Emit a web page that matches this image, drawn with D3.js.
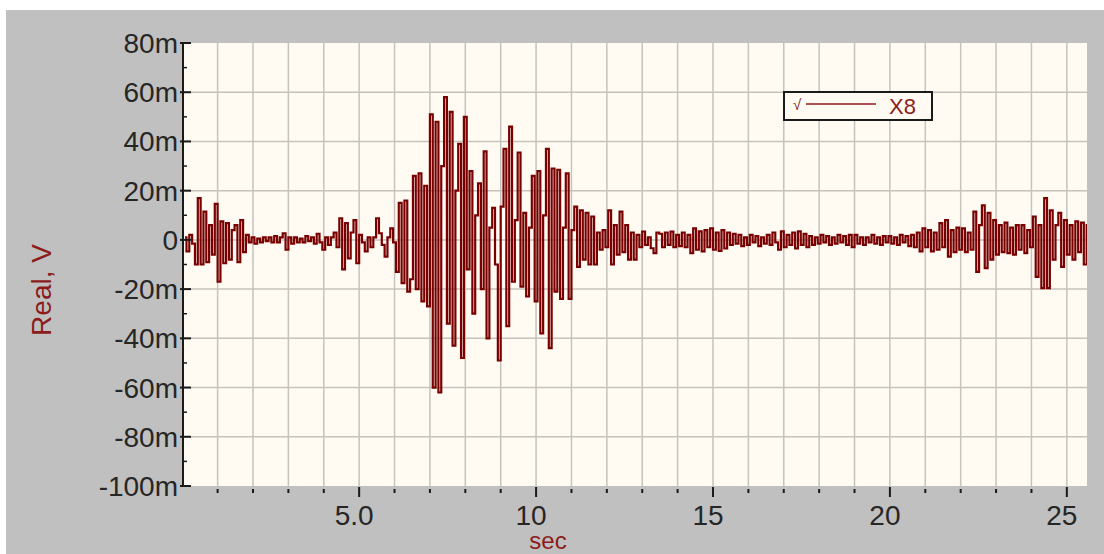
<!DOCTYPE html>
<html>
<head>
	<script src="https://d3js.org/d3.v7.min.js"></script>
	<style>
		body {
			margin: 0;
			background-color: white;
		}
		svg text {
			font-family: "Liberation Sans", Arial, sans-serif;
		}
		.tick-label {
			fill: #262626;
			font-size: 28px;
		}
		.axis-title {
			fill: #8c1c1c;
			font-size: 28px;
		}
		.grid line {
			stroke: #c6c2bc;
			stroke-width: 1.5px;
		}
	</style>
</head>
<body>
<svg class="chart" width="1104" height="554"></svg>

<script>
// tick positions and labels
var xTicks = [5, 10, 15, 20, 25];
var xTickLabels = ["5.0", "10", "15", "20", "25"];
var xMinorTicks = [1, 2, 3, 4, 6, 7, 8, 9, 11, 12, 13, 14, 16, 17, 18, 19, 21, 22, 23, 24];
var yTicks = [80, 60, 40, 20, 0, -20, -40, -60, -80, -100];
var yTickLabels = ["80m", "60m", "40m", "20m", "0", "-20m", "-40m", "-60m", "-80m", "-100m"];
var yMinorTicks = [70, 50, 30, 10, -10, -30, -50, -70, -90];

// X8 trace, sampled every 0.08 sec starting at 0.08 sec, values in mV
var sampleStart = 0.08;
var sampleStep = 0.08;
var x8 = [
	1, -4.7, 2, -1.5, -10, 17, -10, 11.5, -9, 6,          // 0.08 - 0.80
	-6, 14.6, -17, 7.5, -9.5, 6.8, -8, 4, 6, -9,          // 0.88 - 1.60
	8, -5, 2, -1, 1, -1.5, 0.5, -1, 1, -0.5,              // 1.68 - 2.40
	1, -1, 1.5, -1, 1, 2.7, -4, 1, -1.5, 1,               // 2.48 - 3.20
	-1, 0.5, -1, 1.5, -0.5, 1, -1.5, 2.5, -1, -4,         // 3.28 - 4.00
	1, -2, 1, 3, -3, 8.8, -12, 6.8, -7.5, 3,              // 4.08 - 4.80
	8, -9.5, 2, -1, -4.7, 1, -3, 1, 8.8, 2.7,             // 4.88 - 5.60
	-2, -6.8, 1, 4.7, -1, -13, 15, -17.6, 16, -21,        // 5.68 - 6.40
	-16, 26, -20, 27, -25, 22, -27, 51, -60, 48,          // 6.48 - 7.20
	-62, 30, 58, -34, 52, -43, 20, 39, -48, 50,           // 7.28 - 8.00
	-12, 28, -30, 10, 23, -20, 36, -40, 5, 13,            // 8.08 - 8.80
	-10, -49, 13.5, 37, -35, 46, -17, 8, 35.5, -19,       // 8.88 - 9.60
	11, -23, 5, 26, -25, 28, -38, 10, 37, -44,            // 9.68 - 10.40
	29, -21, 28.5, -24, 5, 27, -24, 4, 13.5, -11,         // 10.48 - 11.20
	12, -8, 11, -10, 9.5, -10, 3, -4, 4, -3,              // 11.28 - 12.00
	12, -10, 6, -6, 11.5, -5, 6, -8, 3, -8,               // 12.08 - 12.80
	2, -3, 3.4, -2, 1, -3.4, -5.4, 3, 2.5, -3,            // 12.88 - 13.60
	3, -2, 3.4, -3, 2, -2.5, 3, -3, 2, -5.4,              // 13.68 - 14.40
	4.7, -4, 3.5, -4.7, 4, -3, 4.7, -4, 3, -4.5,          // 14.48 - 15.20
	4, -3.5, 3, -2, 2.5, -1.5, 2, -2.5, 1, -2,            // 15.28 - 16.00
	2, -1, 1.5, -2.5, 1, -1.5, 2, -2, 3, -1,              // 16.08 - 16.80
	-4, 3.5, -3, 2, -2, 3, -3.5, 3.5, -2, 2.5,            // 16.88 - 17.60
	-3, 1.5, -2, 1, -1.5, 2, -1, 1.5, -2, 1,              // 17.68 - 18.40
	-1.5, 2, -1, 1.5, -2, 2, -3, 2, -1.5, 1,              // 18.48 - 19.20
	-2, 1, -1, 2, -1.5, 1, -2, 1.5, -1, 1.5,              // 19.28 - 20.00
	-1.5, 1, -2, 2, -1, 1.5, -2.5, 2, -3, 3,              // 20.08 - 20.80
	-4.7, 4.7, -3, 4, -4.7, 3, -4, 6.8, -3, 8,            // 20.88 - 21.60
	-6.8, 4, -5, 5, -4, 4.7, -5, 3, -4, 11.5,             // 21.68 - 22.40
	-13, 6, 14, -11.5, 11, -8, 8, -6, 6, -5,              // 22.48 - 23.20
	7, -5.4, 5, -6, 6, -4, 6, -5.4, 4, -3,                // 23.28 - 24.00
	9.5, -15, 6, -19.6, 17, -19.6, 12, -8, 6, 11,         // 24.08 - 24.80
	-11, 8, -6, 6, -8, 7.5, -5, 7, -10, 6                 // 24.88 - 25.60
];

var seriesName = "X8";

var svg = d3.select(".chart");

var plotLeft = 184, plotRight = 1087, plotTop = 43, plotBottom = 486;

var x = d3.scaleLinear()
	.domain([0.05, 25.57])
	.range([plotLeft, plotRight]);

var y = d3.scaleLinear()
	.domain([-100, 80])
	.range([plotBottom, plotTop]);

// gray panel
svg.append("rect")
	.attr("x", 6)
	.attr("y", 10)
	.attr("width", 1098)
	.attr("height", 544)
	.attr("fill", "#c0c0c0");

// plot area
svg.append("rect")
	.attr("x", plotLeft)
	.attr("y", plotTop)
	.attr("width", plotRight - plotLeft)
	.attr("height", plotBottom - plotTop)
	.attr("fill", "#fffbf2");

svg.append("clipPath")
	.attr("id", "plot-clip")
	.append("rect")
	.attr("x", plotLeft)
	.attr("y", plotTop)
	.attr("width", plotRight - plotLeft)
	.attr("height", plotBottom - plotTop);

// grid
var grid = svg.append("g").attr("class", "grid");

grid.selectAll(".vgrid")
	.data(xMinorTicks.concat(xTicks))
	.enter().append("line")
	.attr("x1", function(d) { return x(d); })
	.attr("x2", function(d) { return x(d); })
	.attr("y1", plotTop)
	.attr("y2", plotBottom);

grid.selectAll(".hgrid")
	.data(yTicks.filter(function(d) { return d > -100 && d < 80; }))
	.enter().append("line")
	.attr("x1", plotLeft)
	.attr("x2", plotRight)
	.attr("y1", function(d) { return y(d); })
	.attr("y2", function(d) { return y(d); });

// trace
var points = x8.map(function(v, i) {
	return { t: sampleStart + i * sampleStep, v: v };
});

var line = d3.line()
	.x(function(d) { return x(d.t); })
	.y(function(d) { return y(d.v); })
	.curve(d3.curveStep);

svg.append("path")
	.datum(points)
	.attr("clip-path", "url(#plot-clip)")
	.attr("fill", "none")
	.attr("stroke", "#780000")
	.attr("stroke-width", 2.2)
	.attr("d", line);

// y axis
svg.append("line")
	.attr("x1", plotLeft - 1)
	.attr("x2", plotLeft - 1)
	.attr("y1", plotTop)
	.attr("y2", plotBottom)
	.attr("stroke", "#1a1a1a")
	.attr("stroke-width", 2);

svg.selectAll(".ytick")
	.data(yTicks)
	.enter().append("line")
	.attr("x1", plotLeft - 4)
	.attr("x2", plotLeft + 7)
	.attr("y1", function(d) { return y(d); })
	.attr("y2", function(d) { return y(d); })
	.attr("stroke", "#1a1a1a")
	.attr("stroke-width", 2);

svg.selectAll(".yminor")
	.data(yMinorTicks)
	.enter().append("line")
	.attr("x1", plotLeft - 1)
	.attr("x2", plotLeft + 3)
	.attr("y1", function(d) { return y(d); })
	.attr("y2", function(d) { return y(d); })
	.attr("stroke", "#1a1a1a")
	.attr("stroke-width", 1.5);

svg.selectAll(".ylabel")
	.data(yTicks)
	.enter().append("text")
	.attr("class", "tick-label")
	.attr("x", plotLeft - 6)
	.attr("y", function(d) { return y(d) + 10; })
	.attr("text-anchor", "end")
	.text(function(d, i) { return yTickLabels[i]; });

// x axis ticks
svg.selectAll(".xtick")
	.data(xTicks)
	.enter().append("line")
	.attr("x1", function(d) { return x(d); })
	.attr("x2", function(d) { return x(d); })
	.attr("y1", plotBottom + 1)
	.attr("y2", plotBottom + 11)
	.attr("stroke", "#1a1a1a")
	.attr("stroke-width", 2);

svg.selectAll(".xminor")
	.data(xMinorTicks)
	.enter().append("line")
	.attr("x1", function(d) { return x(d); })
	.attr("x2", function(d) { return x(d); })
	.attr("y1", plotBottom + 3)
	.attr("y2", plotBottom + 7)
	.attr("stroke", "#1a1a1a")
	.attr("stroke-width", 2);

svg.selectAll(".xlabel")
	.data(xTicks)
	.enter().append("text")
	.attr("class", "tick-label")
	.attr("x", function(d) { return x(d) - 5; })
	.attr("y", 525)
	.attr("text-anchor", "middle")
	.text(function(d, i) { return xTickLabels[i]; });

// axis titles
svg.append("text")
	.attr("class", "axis-title")
	.attr("x", 548)
	.attr("y", 549)
	.attr("text-anchor", "middle")
	.style("font-size", "24px")
	.text("sec");

svg.append("text")
	.attr("class", "axis-title")
	.attr("transform", "translate(51,290) rotate(-90)")
	.attr("text-anchor", "middle")
	.text("Real, V");

// legend
var legend = svg.append("g");

legend.append("rect")
	.attr("x", 784)
	.attr("y", 92)
	.attr("width", 148)
	.attr("height", 28)
	.attr("fill", "#fffbf2")
	.attr("stroke", "#1a1a1a")
	.attr("stroke-width", 2);

legend.append("text")
	.attr("x", 793)
	.attr("y", 110)
	.attr("fill", "#8c1c1c")
	.style("font-size", "15px")
	.text("\u221A");

legend.append("line")
	.attr("x1", 806)
	.attr("x2", 876)
	.attr("y1", 104)
	.attr("y2", 104)
	.attr("stroke", "#8c1c1c")
	.attr("stroke-width", 1.5);

legend.append("text")
	.attr("x", 889)
	.attr("y", 114)
	.attr("fill", "#8c1c1c")
	.style("font-size", "22px")
	.text(seriesName);
</script>
</body>
</html>
